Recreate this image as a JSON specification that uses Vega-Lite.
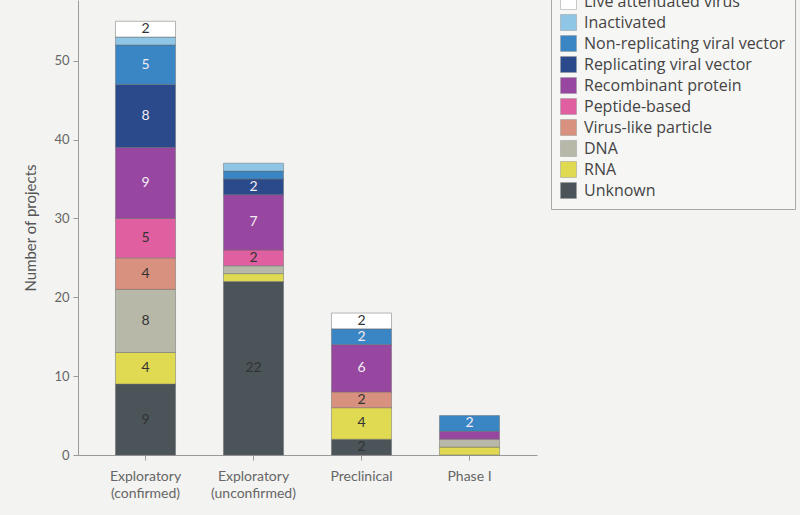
{
  "$schema": "https://vega.github.io/schema/vega-lite/v6.json",
  "width": 459,
  "height": 455,
  "autosize": {"type": "none"},
  "padding": {"left": 78, "top": 0, "right": 263, "bottom": 60},
  "background": "#f3f3f1",
  "config": {"view": {"stroke": null}, "font": "Lato"},
  "data": {
    "values": [
      {"stage": "Exploratory (confirmed)", "type": "Unknown", "count": 9},
      {"stage": "Exploratory (confirmed)", "type": "RNA", "count": 4},
      {"stage": "Exploratory (confirmed)", "type": "DNA", "count": 8},
      {"stage": "Exploratory (confirmed)", "type": "Virus-like particle", "count": 4},
      {"stage": "Exploratory (confirmed)", "type": "Peptide-based", "count": 5},
      {"stage": "Exploratory (confirmed)", "type": "Recombinant protein", "count": 9},
      {"stage": "Exploratory (confirmed)", "type": "Replicating viral vector", "count": 8},
      {"stage": "Exploratory (confirmed)", "type": "Non-replicating viral vector", "count": 5},
      {"stage": "Exploratory (confirmed)", "type": "Inactivated", "count": 1},
      {"stage": "Exploratory (confirmed)", "type": "Live attenuated virus", "count": 2},
      {"stage": "Exploratory (unconfirmed)", "type": "Unknown", "count": 22},
      {"stage": "Exploratory (unconfirmed)", "type": "RNA", "count": 1},
      {"stage": "Exploratory (unconfirmed)", "type": "DNA", "count": 1},
      {"stage": "Exploratory (unconfirmed)", "type": "Peptide-based", "count": 2},
      {"stage": "Exploratory (unconfirmed)", "type": "Recombinant protein", "count": 7},
      {"stage": "Exploratory (unconfirmed)", "type": "Replicating viral vector", "count": 2},
      {"stage": "Exploratory (unconfirmed)", "type": "Non-replicating viral vector", "count": 1},
      {"stage": "Exploratory (unconfirmed)", "type": "Inactivated", "count": 1},
      {"stage": "Preclinical", "type": "Unknown", "count": 2},
      {"stage": "Preclinical", "type": "RNA", "count": 4},
      {"stage": "Preclinical", "type": "Virus-like particle", "count": 2},
      {"stage": "Preclinical", "type": "Recombinant protein", "count": 6},
      {"stage": "Preclinical", "type": "Non-replicating viral vector", "count": 2},
      {"stage": "Preclinical", "type": "Live attenuated virus", "count": 2},
      {"stage": "Phase I", "type": "RNA", "count": 1},
      {"stage": "Phase I", "type": "DNA", "count": 1},
      {"stage": "Phase I", "type": "Recombinant protein", "count": 1},
      {"stage": "Phase I", "type": "Non-replicating viral vector", "count": 2}
    ]
  },
  "transform": [
    {"calculate": "indexof(['Unknown','RNA','DNA','Virus-like particle','Peptide-based','Recombinant protein','Replicating viral vector','Non-replicating viral vector','Inactivated','Live attenuated virus'], datum.type)", "as": "ord"},
    {"stack": "count", "groupby": ["stage"], "sort": [{"field": "ord", "order": "ascending"}], "as": ["y0", "y1"]},
    {"calculate": "(datum.y0 + datum.y1) / 2", "as": "ymid"}
  ],
  "layer": [
    {
      "mark": {"type": "bar", "stroke": "#6a6a6a", "strokeWidth": 0.8, "strokeOpacity": 0.6},
      "encoding": {
        "x": {
          "field": "stage", "type": "nominal",
          "sort": ["Exploratory (confirmed)", "Exploratory (unconfirmed)", "Preclinical", "Phase I"],
          "scale": {"paddingInner": 0.444, "paddingOuter": 0.347},
          "axis": {
            "title": null, "labelAngle": 0, "labelFontSize": 14, "labelColor": "#666",
            "domainColor": "#9a9a9a", "tickColor": "#9a9a9a", "tickSize": 5, "labelPadding": 9,
            "labelLineHeight": 17,
            "labelExpr": "indexof(datum.label, '(') > 0 ? split(datum.label, ' ') : datum.label"
          }
        },
        "y": {
          "field": "y0", "type": "quantitative",
          "scale": {"domain": [0, 57.7], "nice": false},
          "axis": {
            "title": "Number of projects", "titleFontSize": 15, "titleColor": "#555", "titleFontWeight": "normal",
            "titlePadding": 15, "values": [0, 10, 20, 30, 40, 50], "labelFontSize": 13, "labelColor": "#666",
            "domainColor": "#9a9a9a", "tickColor": "#9a9a9a", "tickSize": 5, "grid": false, "labelPadding": 4
          }
        },
        "y2": {"field": "y1"},
        "color": {
          "field": "type", "type": "nominal",
          "scale": {
            "domain": ["Live attenuated virus", "Inactivated", "Non-replicating viral vector", "Replicating viral vector", "Recombinant protein", "Peptide-based", "Virus-like particle", "DNA", "RNA", "Unknown"],
            "range": ["#ffffff", "#8fc6e6", "#3a85c3", "#2b4a8b", "#9747a0", "#df5fa0", "#d8907f", "#b8b8a8", "#e0da52", "#4b5458"]
          },
          "legend": {
            "orient": "none", "legendX": 473, "legendY": -16, "title": null,
            "symbolType": "square", "symbolSize": 256, "labelFont": "Open Sans", "labelFontSize": 16, "labelColor": "#444",
            "rowPadding": 2, "padding": 9, "strokeColor": "#a8a8a8", "fillColor": "#f6f6f5",
            "labelLimit": 400, "symbolStrokeColor": "#999", "symbolStrokeWidth": 0.5, "labelOffset": 7
          }
        }
      }
    },
    {
      "transform": [{"filter": "datum.count >= 2"}],
      "mark": {"type": "text", "fontSize": 14, "font": "Lato"},
      "encoding": {
        "x": {"field": "stage", "type": "nominal", "sort": ["Exploratory (confirmed)", "Exploratory (unconfirmed)", "Preclinical", "Phase I"]},
        "y": {"field": "ymid", "type": "quantitative"},
        "text": {"field": "count", "type": "quantitative"},
        "color": {
          "condition": {"test": "indexof(['Non-replicating viral vector','Replicating viral vector','Recombinant protein'], datum.type) >= 0", "value": "#f3ecf5"},
          "value": "#333333"
        }
      }
    }
  ]
}
